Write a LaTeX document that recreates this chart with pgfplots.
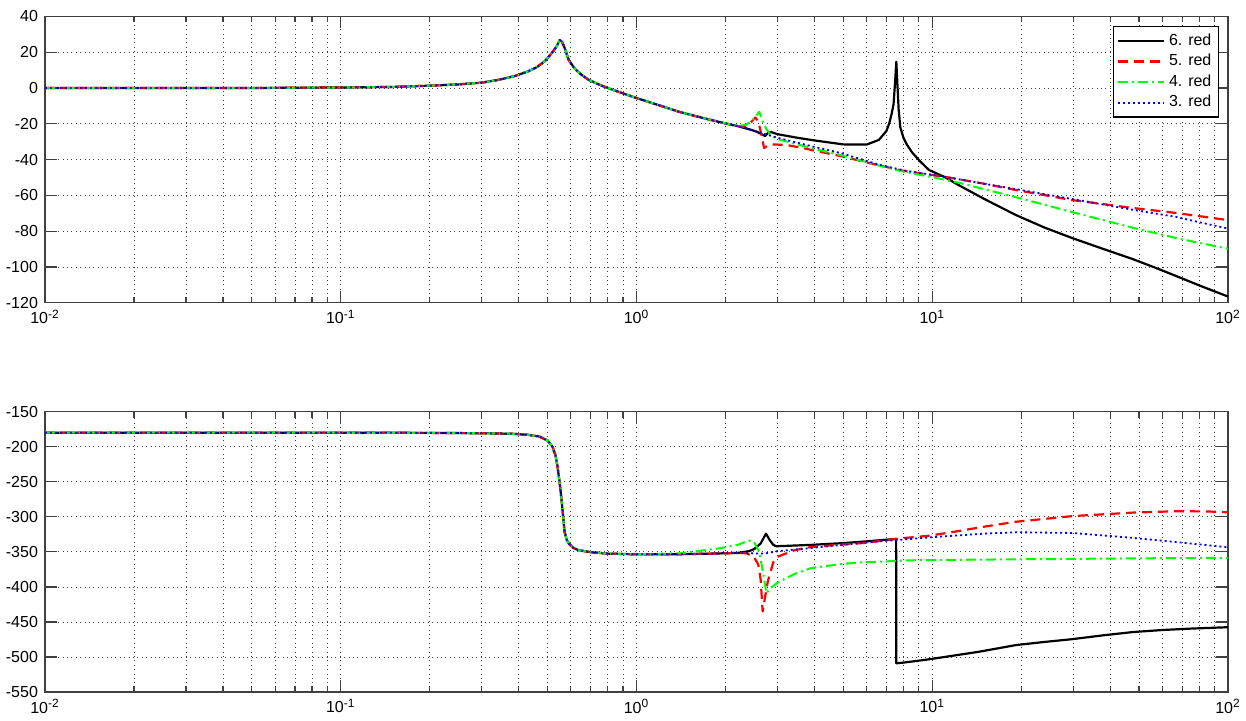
\documentclass[border=0pt]{standalone}
\usepackage{pgfplots}
\pgfplotsset{compat=1.18}
\usepackage{fontspec}
\setmainfont{Liberation Sans}

\tikzset{
  s6/.style={black, line width=1.1pt, line join=round},
  s5/.style={red, line width=1.1pt, line join=round, dash pattern=on 5pt off 3pt},
  s4/.style={green, line width=1pt, line join=round, dash pattern=on 5pt off 2pt on 1pt off 2pt},
  s3/.style={blue, line width=0.9pt, line join=round, dash pattern=on 1pt off 1.5pt},
}

\begin{document}
\begin{tikzpicture}
\useasboundingbox (0,0) rectangle (623pt,-360pt);

% magnitude
\begin{axis}[at={(22.5pt,-8.2pt)}, anchor=north west,
  scale only axis, width=591.5pt, height=143.2pt,
  xmode=log, xmin=0.01, xmax=100,
  xtick={0.01,0.1,1,10,100},
  xticklabels={10\textsuperscript{-2},10\textsuperscript{-1},10\textsuperscript{0},10\textsuperscript{1},10\textsuperscript{2}},
  minor xtick={0.02,0.03,0.04,0.05,0.06,0.07,0.08,0.09,0.2,0.3,0.4,0.5,0.6,0.7,0.8,0.9,2,3,4,5,6,7,8,9,20,30,40,50,60,70,80,90},
  ymin=-120, ymax=40, ytick={-120,-100,...,40},
  grid=both,
  major grid style={black!75, line width=0.4pt, dash pattern=on 0.4pt off 1.8pt},
  minor grid style={black!75, line width=0.4pt, dash pattern=on 0.4pt off 1.8pt},
  tick align=inside,
  major tick length=6pt, minor tick length=3pt,
  tick style={black!75, line width=0.6pt},
  axis line style={black!75, line width=0.6pt},
  tick label style={font=\fontsize{8}{9}\selectfont},
  /pgf/number format/assume math mode=true,
  legend style={at={(1,1)}, anchor=north east, xshift=-4.5pt, yshift=-4.8pt,
    draw=black, line width=0.6pt, font=\fontsize{8}{9}\selectfont,
    cells={anchor=west}, inner sep=1.5pt, row sep=-1pt},
  legend image code/.code={\draw[#1] (0pt,0pt) -- (23pt,0pt);}]

\addplot[s6] coordinates {
(0.01,0) (0.05,0) (0.1,0.3) (0.15,0.6) (0.2,1.3) (0.25,2.0) (0.3,3.0) (0.34,4.5) (0.39,6.8) (0.43,9.3) (0.46,11.6) (0.49,15) (0.52,20) (0.537,23.3) (0.55,26.8) (0.56,25.8) (0.572,22.3) (0.59,15.6) (0.62,10.6) (0.65,7.5) (0.69,4.5) (0.75,1.8) (0.8,0) (0.9,-3) (1,-5.6) (1.2,-9.8) (1.4,-13.4) (1.7,-17) (2,-19.8) (2.2,-21.3)
(2.4,-23) (2.55,-24.4) (2.65,-25.8) (2.72,-26.8) (2.78,-25.2) (2.85,-24.6) (3,-25.8) (3.5,-27.8) (4,-29.3) (5,-31.5) (6,-31.6) (6.6,-29) (7,-24) (7.16,-19.6) (7.3,-14) (7.4,-9) (7.5,5) (7.56,14.7) (7.62,3) (7.7,-12) (7.8,-22) (8,-28) (8.2,-31.5) (8.55,-36) (9.1,-41) (9.75,-45.8) (11.1,-50) (12.2,-54) (15,-62) (19.2,-71) (24,-78) (29.7,-83.8) (38,-90) (47.5,-95.5) (57,-100.5) (66.7,-105) (80,-110.3) (100,-116.5)
};
\addlegendentry{6. red}

\addplot[s5] coordinates {
(0.01,0) (0.05,0) (0.1,0.3) (0.15,0.6) (0.2,1.3) (0.25,2.0) (0.3,3.0) (0.34,4.5) (0.39,6.8) (0.43,9.3) (0.46,11.6) (0.49,15) (0.52,20) (0.537,23.3) (0.55,26.8) (0.56,25.8) (0.572,22.3) (0.59,15.6) (0.62,10.6) (0.65,7.5) (0.69,4.5) (0.75,1.8) (0.8,0) (0.9,-3) (1,-5.6) (1.2,-9.8) (1.4,-13.4) (1.7,-17) (2,-19.8) (2.2,-21.3)
(2.3,-21.7) (2.42,-19.8) (2.52,-16.5) (2.58,-18.5) (2.64,-25.5) (2.7,-33.5) (2.76,-32.5) (2.87,-31.5) (3.2,-31.8) (3.6,-33.3) (4,-35) (4.9,-38) (6.6,-43.2) (8,-46.3) (11.1,-49.7) (15,-53.5) (19.2,-57) (29.7,-62.6) (47.5,-67) (66.7,-69.8) (100,-73.8)
};
\addlegendentry{5. red}

\addplot[s4] coordinates {
(0.01,0) (0.05,0) (0.1,0.3) (0.15,0.6) (0.2,1.3) (0.25,2.0) (0.3,3.0) (0.34,4.5) (0.39,6.8) (0.43,9.3) (0.46,11.6) (0.49,15) (0.52,20) (0.537,23.3) (0.55,26.8) (0.56,25.8) (0.572,22.3) (0.59,15.6) (0.62,10.6) (0.65,7.5) (0.69,4.5) (0.75,1.8) (0.8,0) (0.9,-3) (1,-5.6) (1.2,-9.8) (1.4,-13.4) (1.7,-17) (2,-19.8) (2.2,-21.3)
(2.35,-20.5) (2.5,-17) (2.6,-13.3) (2.66,-18) (2.75,-23) (2.85,-26.5) (3,-28.5) (3.5,-31.5) (4,-34) (5,-37.8) (6.6,-43.3) (8,-46.8) (10,-49.8) (12,-52.5) (19.2,-61) (29.7,-69.3) (47.5,-78) (66.7,-83.8) (100,-89.8)
};
\addlegendentry{4. red}

\addplot[s3] coordinates {
(0.01,0) (0.05,0) (0.1,0.3) (0.15,0.6) (0.2,1.3) (0.25,2.0) (0.3,3.0) (0.34,4.5) (0.39,6.8) (0.43,9.3) (0.46,11.6) (0.49,15) (0.52,20) (0.537,23.3) (0.55,26.8) (0.56,25.8) (0.572,22.3) (0.59,15.6) (0.62,10.6) (0.65,7.5) (0.69,4.5) (0.75,1.8) (0.8,0) (0.9,-3) (1,-5.6) (1.2,-9.8) (1.4,-13.4) (1.7,-17) (2,-19.8) (2.2,-21.3)
(2.4,-23) (2.62,-25) (3,-27.8) (3.9,-32.5) (4.9,-36.3) (6.6,-42.8) (8,-46) (11.1,-49.7) (15,-53.5) (19.2,-56.5) (29.7,-62) (40,-65.8) (47.5,-68) (66.7,-72) (80,-75) (100,-78.5)
};
\addlegendentry{3. red}
\end{axis}

% phase
\begin{axis}[at={(22.5pt,-205.85pt)}, anchor=north west,
  scale only axis, width=591.5pt, height=140.15pt,
  xmode=log, xmin=0.01, xmax=100,
  xtick={0.01,0.1,1,10,100},
  xticklabels={10\textsuperscript{-2},10\textsuperscript{-1},10\textsuperscript{0},10\textsuperscript{1},10\textsuperscript{2}},
  minor xtick={0.02,0.03,0.04,0.05,0.06,0.07,0.08,0.09,0.2,0.3,0.4,0.5,0.6,0.7,0.8,0.9,2,3,4,5,6,7,8,9,20,30,40,50,60,70,80,90},
  ymin=-550, ymax=-150, ytick={-550,-500,...,-150},
  grid=both,
  major grid style={black!75, line width=0.4pt, dash pattern=on 0.4pt off 1.8pt},
  minor grid style={black!75, line width=0.4pt, dash pattern=on 0.4pt off 1.8pt},
  tick align=inside,
  major tick length=6pt, minor tick length=3pt,
  tick style={black!75, line width=0.6pt},
  axis line style={black!75, line width=0.6pt},
  tick label style={font=\fontsize{8}{9}\selectfont},
  /pgf/number format/assume math mode=true]

\addplot[s6] coordinates {
(0.01,-180) (0.1,-180) (0.2,-180.2) (0.3,-180.7) (0.38,-181.5) (0.43,-183) (0.47,-185.5) (0.5,-191) (0.52,-200) (0.532,-212) (0.541,-229) (0.55,-252) (0.558,-276) (0.565,-300) (0.571,-321) (0.58,-332) (0.59,-338) (0.61,-344) (0.635,-347.5) (0.7,-350.5) (0.8,-352.5) (1,-353.5) (1.4,-353.3) (1.8,-352.5) (2.2,-351.5)
(2.4,-349) (2.5,-346) (2.63,-338) (2.74,-324) (2.82,-333) (2.9,-340) (2.97,-342) (3.9,-340) (5,-337.5) (6,-335) (7.3,-332) (7.55,-331.5) (7.56,-509) (8,-508) (9.5,-504) (11,-500) (14.4,-492.5) (19.2,-483) (24,-478.5) (29.7,-474.6) (38,-469) (47.5,-464.5) (60,-461.5) (75,-459.5) (100,-457.5)
};

\addplot[s5] coordinates {
(0.01,-180) (0.1,-180) (0.2,-180.2) (0.3,-180.7) (0.38,-181.5) (0.43,-183) (0.47,-185.5) (0.5,-191) (0.52,-200) (0.532,-212) (0.541,-229) (0.55,-252) (0.558,-276) (0.565,-300) (0.571,-321) (0.58,-332) (0.59,-338) (0.61,-344) (0.635,-347.5) (0.7,-350.5) (0.8,-352.5) (1,-353.5) (1.4,-353.3) (1.8,-352.5) (2.2,-351.5)
(2.36,-352) (2.5,-358) (2.58,-368) (2.63,-390) (2.67,-435) (2.72,-415) (2.78,-392) (2.9,-365) (3,-357) (3.4,-348) (3.9,-343) (5,-339.5) (6,-337) (7.7,-331) (9.75,-327) (12,-321) (15,-314) (19.2,-307) (29.7,-299) (47.5,-294) (66.7,-292) (85,-292.3) (100,-293.5)
};

\addplot[s4] coordinates {
(0.01,-180) (0.1,-180) (0.2,-180.2) (0.3,-180.7) (0.38,-181.5) (0.43,-183) (0.47,-185.5) (0.5,-191) (0.52,-200) (0.532,-212) (0.541,-229) (0.55,-252) (0.558,-276) (0.565,-300) (0.571,-321) (0.58,-332) (0.59,-338) (0.61,-344) (0.635,-347.5) (0.7,-350.5) (0.8,-352.5) (1,-353.5)
(1.4,-352) (1.9,-345) (2.2,-340) (2.4,-334) (2.5,-336) (2.6,-350) (2.68,-380) (2.75,-409) (2.85,-401) (3,-394) (3.4,-382) (3.9,-373) (5,-367) (5.8,-365) (8.5,-362) (15,-361) (30,-360) (60,-359) (100,-358.5)
};

\addplot[s3] coordinates {
(0.01,-180) (0.1,-180) (0.2,-180.2) (0.3,-180.7) (0.38,-181.5) (0.43,-183) (0.47,-185.5) (0.5,-191) (0.52,-200) (0.532,-212) (0.541,-229) (0.55,-252) (0.558,-276) (0.565,-300) (0.571,-321) (0.58,-332) (0.59,-338) (0.61,-344) (0.635,-347.5) (0.7,-350.5) (0.8,-352.5) (1,-353.5) (1.4,-353.3) (1.8,-352.5) (2.2,-351.5)
(2.4,-352) (2.7,-352.5) (3,-349) (4,-344) (5,-340) (6.6,-335) (7.7,-333) (10,-329) (15,-324) (19.2,-322) (29.7,-323) (47.5,-330) (66.7,-336) (100,-343.5)
};
\end{axis}
\end{tikzpicture}
\end{document}
